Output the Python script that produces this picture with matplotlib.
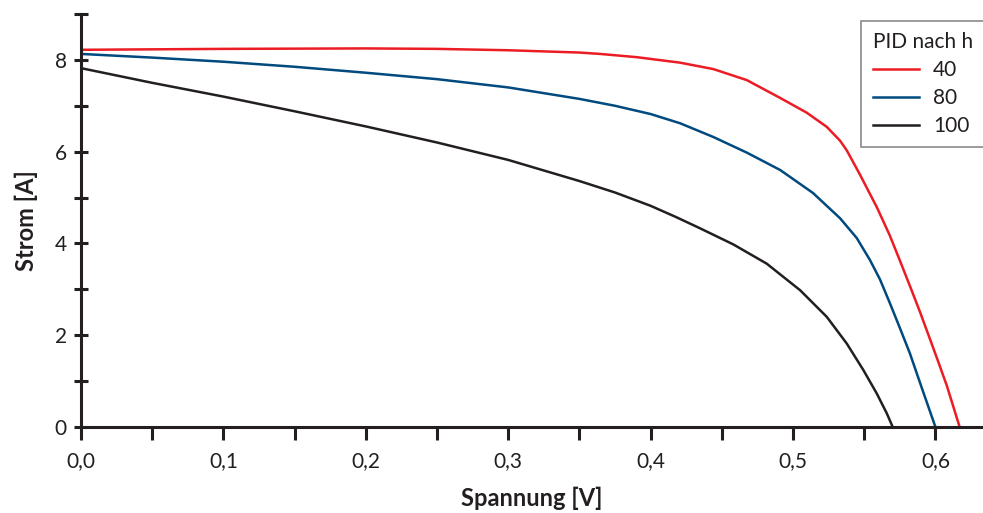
import matplotlib
matplotlib.use("Agg")
import matplotlib.pyplot as plt
from matplotlib.ticker import MultipleLocator, FuncFormatter

# Data
red_x = [0.0, 0.05, 0.1, 0.15, 0.2, 0.25, 0.3, 0.35, 0.3645, 0.39, 0.4206, 0.444,
         0.4675, 0.491, 0.5096, 0.5237, 0.533, 0.5377, 0.547, 0.559, 0.568, 0.575,
         0.582, 0.589, 0.596, 0.602, 0.608, 0.617]
red_y = [8.22, 8.23, 8.24, 8.245, 8.25, 8.24, 8.21, 8.16, 8.13, 8.06, 7.94, 7.80,
         7.56, 7.17, 6.85, 6.54, 6.24, 6.03, 5.50, 4.78, 4.17, 3.63,
         3.08, 2.52, 1.93, 1.42, 0.90, 0.0]

blue_x = [0.0, 0.05, 0.1, 0.15, 0.2, 0.25, 0.3, 0.35, 0.375, 0.4, 0.4206, 0.444, 0.4675,
          0.491, 0.514, 0.533, 0.5447, 0.554, 0.561, 0.568, 0.575, 0.582, 0.591, 0.600]
blue_y = [8.13, 8.05, 7.96, 7.85, 7.72, 7.58, 7.40, 7.15, 7.00, 6.82, 6.62, 6.32, 5.98,
          5.60, 5.10, 4.55, 4.12, 3.64, 3.22, 2.70, 2.16, 1.61, 0.80, 0.0]

black_x = [0.0, 0.05, 0.1, 0.15, 0.2, 0.25, 0.3, 0.35, 0.375, 0.4, 0.4175, 0.4347, 0.458,
           0.4815, 0.505, 0.5237, 0.5377, 0.5494, 0.5588, 0.5658, 0.570]
black_y = [7.82, 7.50, 7.20, 6.88, 6.55, 6.20, 5.82, 5.36, 5.11, 4.82, 4.58, 4.33, 3.98,
           3.56, 2.98, 2.40, 1.82, 1.24, 0.73, 0.30, 0.0]

series_labels = ["40", "80", "100"]
legend_title = "PID nach h"
x_label = "Spannung [V]"
y_label = "Strom [A]"

plt.rcParams['font.family'] = ['Lato', 'DejaVu Sans']

fig = plt.figure(figsize=(9.83, 5.13), dpi=100)
ax = fig.add_axes([81/983, 86/513, (983-81)/983, (427-14)/513])

ink = "#231f20"
ax.plot(red_x, red_y, color="#ec1c24", lw=1.8, label=series_labels[0], solid_joinstyle='round')
ax.plot(blue_x, blue_y, color="#004a7f", lw=1.8, label=series_labels[1], solid_joinstyle='round')
ax.plot(black_x, black_y, color=ink, lw=1.8, label=series_labels[2], solid_joinstyle='round')

ax.set_xlim(0, 0.6334)
ax.set_ylim(0, 9)

for s in ["top", "right"]:
    ax.spines[s].set_visible(False)
for s in ["left", "bottom"]:
    ax.spines[s].set_linewidth(2.2)
    ax.spines[s].set_color(ink)
ax.spines["left"].set_bounds(0, 9)

ax.xaxis.set_major_locator(MultipleLocator(0.05))
ax.xaxis.set_major_formatter(FuncFormatter(
    lambda v, p: (f"{v:.1f}".replace(".", ",") if abs(round(v / 0.1) * 0.1 - v) < 1e-6 else "")))
ax.yaxis.set_major_locator(MultipleLocator(1))
ax.yaxis.set_major_formatter(FuncFormatter(
    lambda v, p: (f"{int(round(v))}" if int(round(v)) % 2 == 0 and int(round(v)) < 9 else "")))

ax.tick_params(axis='x', direction='out', length=9.5, width=2.2, color=ink,
               labelsize=15, pad=8, labelcolor=ink)
ax.tick_params(axis='y', direction='inout', length=10.5, width=2.2, color=ink,
               labelsize=15, pad=5, labelcolor=ink)

ax.set_xlabel(x_label, fontsize=17, fontweight='bold', color=ink, labelpad=11)
ax.set_ylabel(y_label, fontsize=17, fontweight='bold', color=ink, labelpad=12)

leg = ax.legend(title=legend_title, loc='upper right', bbox_to_anchor=(1.012, 0.98),
                bbox_transform=fig.transFigure, fontsize=15, title_fontsize=15,
                frameon=True, fancybox=False, edgecolor="#8a8a8a", framealpha=1,
                handlelength=2.2, handletextpad=0.7, borderpad=0.55, labelspacing=0.38,
                alignment='left')
leg.get_frame().set_linewidth(1.2)
for t in leg.get_texts():
    t.set_color(ink)
leg.get_title().set_color(ink)

fig.savefig("out.png", dpi=100)
